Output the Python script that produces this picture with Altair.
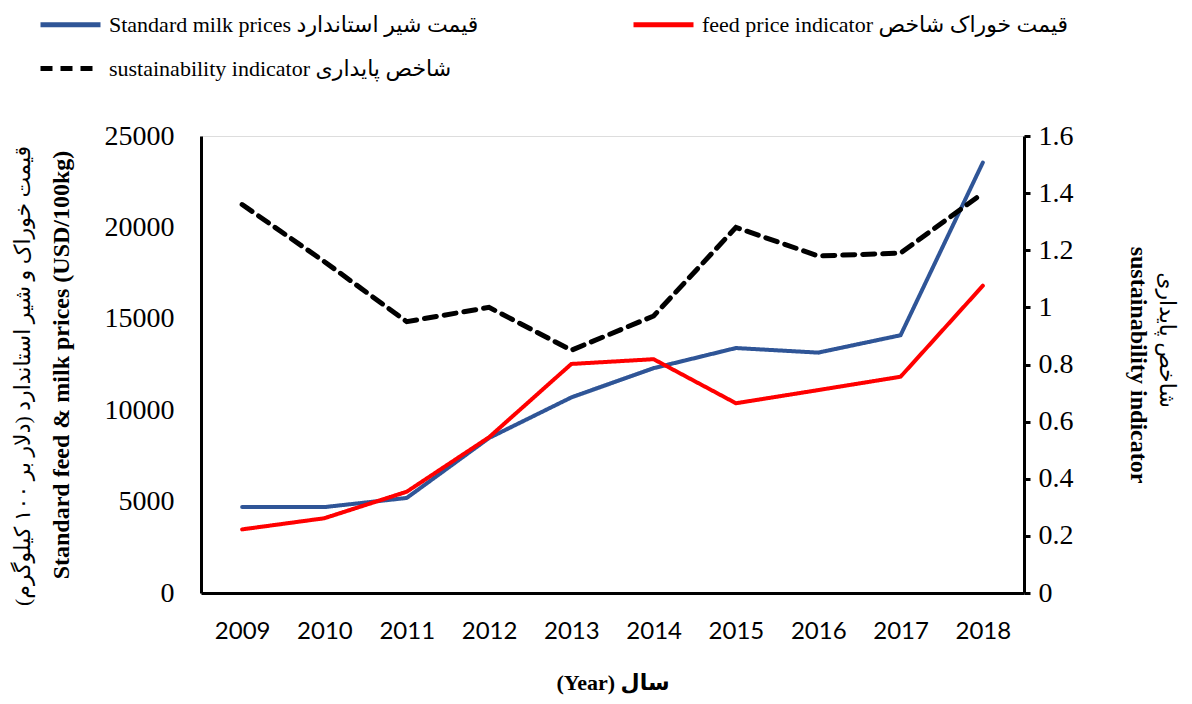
import altair as alt
import pandas as pd

years = ["2009", "2010", "2011", "2012", "2013", "2014", "2015", "2016", "2017", "2018"]
milk = [4700, 4700, 5200, 8480, 10700, 12300, 13400, 13150, 14100, 23550]
feed = [3480, 4090, 5540, 8520, 12530, 12790, 10380, 11100, 11830, 16810]
sust = [1.36, 1.16, 0.95, 1.00, 0.85, 0.97, 1.28, 1.18, 1.19, 1.40]

S1 = "Standard milk prices قیمت شیر استاندارد"
S2 = "feed price indicator  قیمت خوراک شاخص"
S3 = "sustainability indicator شاخص پایداری"
series_names = [S1, S2, S3]
series_colors = ["#2F5597", "#FF0000", "#000000"]
series_dashes = [[1, 0], [1, 0], [12, 8]]

left_ticks = [0, 5000, 10000, 15000, 20000, 25000]
right_ticks = [0, 0.2, 0.4, 0.6, 0.8, 1.0, 1.2, 1.4, 1.6]

left_title_fa = "قیمت خوراک و شیر استاندارد (دلار بر ۱۰۰ کیلوگرم)"
left_title_en = "Standard feed & milk prices (USD/100kg)"
right_title_fa = "شاخص   پایداری"
right_title_en = "sustainability indicator"
x_title = "(Year) سال"

SERIF = "Liberation Serif, DejaVu Sans"


def make_legend():
    return alt.Legend(
        title=None, orient="none", legendX=-163, legendY=-144, columns=2,
        direction="horizontal", columnPadding=144, rowPadding=-14,
        symbolType="stroke", symbolSize=3600, symbolStrokeWidth=5,
        labelFont=SERIF, labelFontSize=22, labelLimit=0, labelColor="black",
        labelOffset=6,
    )


left_df = pd.DataFrame({
    "year": years * 2,
    "value": milk + feed,
    "series": [S1] * len(years) + [S2] * len(years),
})
right_df = pd.DataFrame({"year": years, "value": sust, "series": [S3] * len(years)})

color = alt.Color(
    "series:N",
    scale=alt.Scale(domain=series_names, range=series_colors),
    legend=make_legend(),
)
dash = alt.StrokeDash(
    "series:N",
    scale=alt.Scale(domain=series_names, range=series_dashes),
    legend=make_legend(),
)

x = alt.X(
    "year:O",
    sort=years,
    axis=alt.Axis(
        title=x_title, labelAngle=0, labelFont="Lato", labelFontSize=24,
        labelColor="black", labelPadding=26, ticks=False, domainColor="black",
        domainWidth=3, titleFont=SERIF, titleFontSize=22, titleFontWeight="bold",
        titleColor="black", titlePadding=29,
    ),
)

left = alt.Chart(left_df).mark_line(strokeWidth=4, strokeCap="round").encode(
    x=x,
    y=alt.Y(
        "value:Q",
        scale=alt.Scale(domain=[0, 25000], nice=False),
        axis=alt.Axis(
            values=left_ticks, format="d", title=left_title_en, grid=False,
            ticks=False, domainColor="black", domainWidth=3, labelFont=SERIF,
            labelFontSize=28, labelColor="black", labelPadding=27,
            titleFont=SERIF, titleFontSize=24, titleFontWeight="bold",
            titleColor="black", titlePadding=31,
        ),
    ),
    color=color,
    strokeDash=dash,
)

right = alt.Chart(right_df).mark_line(strokeWidth=5, strokeCap="round").encode(
    x=x,
    y=alt.Y(
        "value:Q",
        scale=alt.Scale(domain=[0, 1.6], nice=False),
        axis=alt.Axis(
            orient="right", values=right_ticks, format="~g", title=right_title_en,
            grid=False, ticks=True, tickSize=6, tickWidth=3, tickColor="black",
            domainColor="black", domainWidth=3, labelFont=SERIF, labelFontSize=28,
            labelColor="black", labelPadding=8, titleFont=SERIF, titleFontSize=24,
            titleFontWeight="bold", titleColor="black", titlePadding=52,
        ),
    ),
    color=color,
    strokeDash=dash,
)

one = pd.DataFrame({"k": [0]})
left_fa = alt.Chart(one).mark_text(
    angle=270, font=SERIF, fontSize=22, color="black", baseline="middle", align="center"
).encode(x=alt.value(-178), y=alt.value(240), text=alt.value(left_title_fa))
right_fa = alt.Chart(one).mark_text(
    angle=90, font=SERIF, fontSize=22, color="black", baseline="middle", align="center"
).encode(x=alt.value(966), y=alt.value(204), text=alt.value(right_title_fa))

chart = alt.layer(left, right, left_fa, right_fa).resolve_scale(
    y="independent"
).properties(
    width=823, height=457,
    autosize=alt.AutoSizeParams(type="none"),
    padding={"left": 193, "top": 128, "right": 160, "bottom": 103},
).configure_view(stroke=None).configure(background="white")

chart.save("out.html", embed_options={"renderer": "svg", "actions": False})
